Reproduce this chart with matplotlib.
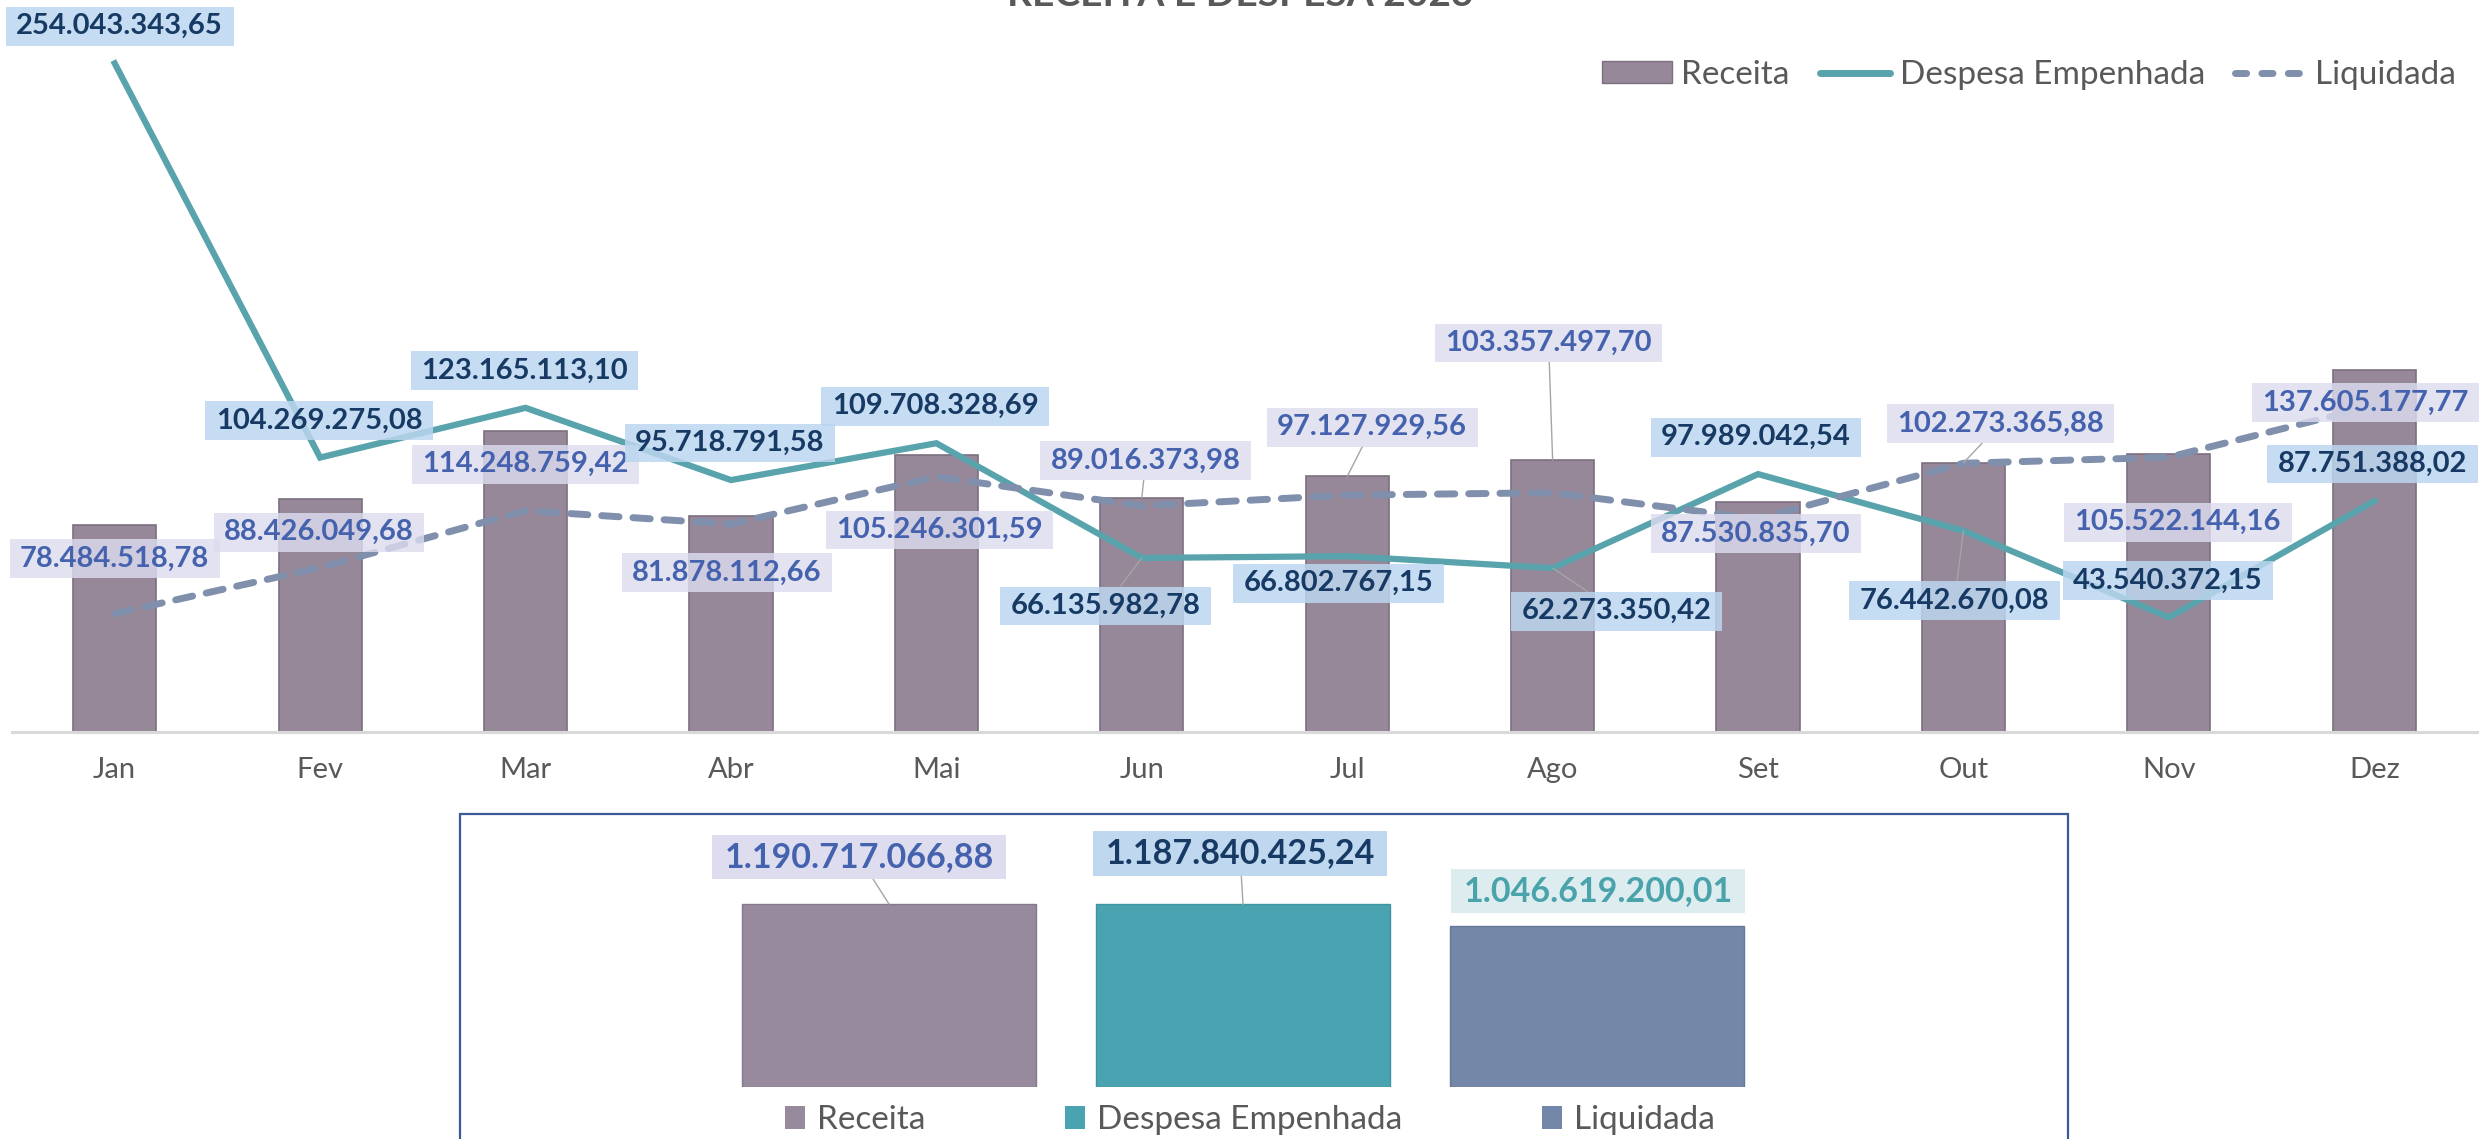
import matplotlib
matplotlib.use('Agg')
import matplotlib.pyplot as plt
from matplotlib.path import Path
from matplotlib.patches import Patch, Rectangle
from matplotlib.lines import Line2D

plt.rcParams['font.family'] = ['Lato', 'DejaVu Sans']

# ---------------- data ----------------
months = ['Jan', 'Fev', 'Mar', 'Abr', 'Mai', 'Jun', 'Jul', 'Ago', 'Set', 'Out', 'Nov', 'Dez']
receita = [78484518.78, 88426049.68, 114248759.42, 81878112.66, 105246301.59, 89016373.98,
           97127929.56, 103357497.70, 87530835.70, 102273365.88, 105522144.16, 137605177.77]
despesa = [254043343.65, 104269275.08, 123165113.10, 95718791.58, 109708328.69, 66135982.78,
           66802767.15, 62273350.42, 97989042.54, 76442670.08, 43540372.15, 87751388.02]
liquidada = [45000000, 62500000, 84100000, 79000000, 97000000, 85900000,
             90000000, 90900000, 81000000, 102100000, 104400000, 124000000]
series_names = ['Receita', 'Despesa Empenhada', 'Liquidada']
totals = [1190717066.88, 1187840425.24, 1046619200.01]
title = 'RECEITA E DESPESA 2023'

# ---------------- layout / style ----------------
W, H = 2488, 1139
BAR = '#968799'
BAR_EDGE = '#7b6f80'
DESP = '#58a3ac'
LIQ = '#7f8fac'
REC_TXT, REC_BG = '#4462ad', '#dcdcef'
DES_TXT, DES_BG = '#173a64', '#bcd6f0'
LIQ_TXT, LIQ_BG = '#4aa2ab', '#dcecef'
GRAY = '#595959'

# label offsets (pixels: dx right, dy down) from each data point
rec_off = [(0, 33), (-1, 33), (0, 33), (-4, 56), (3, 75), (4, -37), (25, -49), (-4, -117),
           (-2, 32), (37, -39), (9, 68), (-9, 33)]
rec_leader = [0, 0, 0, 0, 0, 1, 1, 1, 0, 1, 0, 0]
des_off = [(5, -37), (-1, -37), (-1, -37), (-1, -37), (-1, -37), (-36, 48), (-9, 27), (64, 43),
           (-2, -37), (-9, 70), (-1, -37), (-2, -37)]
des_leader = [0, 0, 0, 0, 0, 1, 0, 1, 0, 1, 0, 0]


def fmt(v):
    s = f"{v:,.2f}"
    return s.replace(',', 'X').replace('.', ',').replace('X', '.')


def rect_box(padx, pady):
    def f(x0, y0, width, height, mutation_size):
        px = padx * mutation_size
        py = pady * mutation_size
        x0 -= px
        y0 -= py
        w = width + 2 * px
        h = height + 2 * py
        return Path([(x0, y0), (x0 + w, y0), (x0 + w, y0 + h), (x0, y0 + h), (x0, y0)], closed=True)
    return f


fig = plt.figure(figsize=(W / 100, H / 100), dpi=100)

# ---------------- main chart ----------------
base_y = 732
px_per_unit = 2.632e-6
ax = fig.add_axes([12 / W, (H - base_y) / H, (2477 - 12) / W, base_y / H])
ax.set_xlim(-0.5, 11.5)
ax.set_ylim(0, base_y / px_per_unit)
x = list(range(len(months)))

ax.bar(x, receita, width=0.405, color=BAR, edgecolor=BAR_EDGE, linewidth=1.2, zorder=2)
ax.plot(x, despesa, color=DESP, lw=4.5, zorder=3, solid_joinstyle='miter')
ax.plot(x, liquidada, color=LIQ, lw=5.0, zorder=4, dashes=(2.5, 2.0), dash_capstyle='round')

for s in ['top', 'left', 'right']:
    ax.spines[s].set_visible(False)
ax.spines['bottom'].set_color('#d9d9d9')
ax.spines['bottom'].set_linewidth(2.2)
ax.set_yticks([])
ax.set_xticks(x)
ax.set_xticklabels(months)
ax.tick_params(axis='x', length=0, pad=18, labelsize=21, labelcolor=GRAY)

lead = dict(arrowstyle='-', color='#a5a5a5', lw=1.0, shrinkA=0, shrinkB=0)
for i in x:
    dx, dy = rec_off[i]
    ax.annotate(fmt(receita[i]), xy=(i, receita[i]), xytext=(dx, -dy), textcoords='offset pixels',
                ha='center', va='center', fontsize=21, fontweight='bold', color=REC_TXT, zorder=5,
                bbox=dict(boxstyle=rect_box(0.36, 0.22), fc=REC_BG, ec='none', alpha=0.82),
                arrowprops=lead if rec_leader[i] else None)
    dx, dy = des_off[i]
    ax.annotate(fmt(despesa[i]), xy=(i, despesa[i]), xytext=(dx, -dy), textcoords='offset pixels',
                ha='center', va='center', fontsize=21, fontweight='bold', color=DES_TXT, zorder=6,
                bbox=dict(boxstyle=rect_box(0.36, 0.22), fc=DES_BG, ec='none', alpha=0.85),
                arrowprops=lead if des_leader[i] else None)

handles = [Patch(facecolor=BAR, edgecolor=BAR_EDGE),
           Line2D([], [], color=DESP, lw=5, solid_capstyle='round'),
           Line2D([], [], color=LIQ, lw=5, dashes=(1.6, 2.2), dash_capstyle='round')]
ax.legend(handles, series_names, loc='center right', bbox_to_anchor=(2456 / W, 1 - 75 / H),
          bbox_transform=fig.transFigure, ncol=3, frameon=False, fontsize=24, labelcolor=GRAY,
          handlelength=2.1, handleheight=0.65, handletextpad=0.3, columnspacing=0.9,
          borderpad=0, borderaxespad=0)

fig.text(1240 / W, 1 - 6 / H, title, ha='center', va='baseline', fontsize=28,
         fontweight='bold', color=GRAY)

# ---------------- totals panel ----------------
box_l, box_r, box_t = 460, 2068, 814
fig.add_artist(Rectangle((box_l / W, -0.05), (box_r - box_l) / W, (1 - box_t / H) + 0.05,
                         transform=fig.transFigure, fill=False, edgecolor='#3d5a98', lw=1.6))

b2 = 1087
scale2 = 0.1537e-6
sp = 354
ax2 = fig.add_axes([box_l / W, (H - b2) / H, (box_r - box_l) / W, (b2 - box_t) / H])
ax2.set_xlim(-(889 - box_l) / sp, (box_r - 889) / sp)
ax2.set_ylim(0, (b2 - box_t) / scale2)
ax2.axis('off')
tcols = ['#978a9c', '#4aa3b0', '#7487a8']
tx = [0, 1, 2]
ax2.bar(tx, totals, width=0.83, color=tcols, edgecolor=['#85788a', '#3f949f', '#66789a'],
        linewidth=1.0, zorder=2)
t_off = [(-30, -47), (-3, -51), (1, -35)]
t_txt = [REC_TXT, DES_TXT, LIQ_TXT]
t_bg = [REC_BG, DES_BG, LIQ_BG]
t_lead = [1, 1, 0]
for i in tx:
    dx, dy = t_off[i]
    ax2.annotate(fmt(totals[i]), xy=(i, totals[i]), xytext=(dx, -dy), textcoords='offset pixels',
                 ha='center', va='center', fontsize=24.5, fontweight='bold', color=t_txt[i], zorder=5,
                 bbox=dict(boxstyle=rect_box(0.35, 0.18), fc=t_bg[i], ec='none', alpha=0.95),
                 arrowprops=lead if t_lead[i] else None)

h2 = [Patch(facecolor=c, edgecolor='none') for c in tcols]
fig.legend(h2, series_names, loc='center', bbox_to_anchor=(1250 / W, 1 - 1120 / H), ncol=3,
           frameon=False, fontsize=24, labelcolor=GRAY, handlelength=0.6, handleheight=0.7,
           handletextpad=0.35, columnspacing=4.2, borderpad=0, borderaxespad=0)

fig.savefig('out.png', dpi=100)
